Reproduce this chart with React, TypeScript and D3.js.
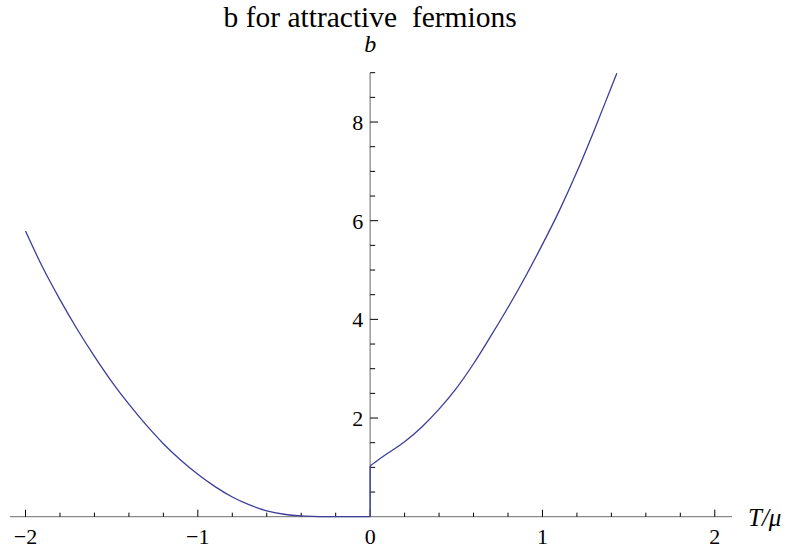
import { useEffect, useRef } from "react";
import * as d3 from "d3";

// values
const leftT = [-2.0, -1.9, -1.8, -1.7, -1.6, -1.5, -1.4, -1.3, -1.2, -1.1, -1.0, -0.9, -0.8, -0.7, -0.6, -0.5, -0.4, -0.3, -0.2, 0];
const leftB = [5.79, 5.05, 4.4, 3.8, 3.25, 2.74, 2.28, 1.86, 1.48, 1.15, 0.86, 0.61, 0.4, 0.24, 0.12, 0.05, 0.015, 0.003, 0, 0];
const jumpT = [0, 0];
const jumpB = [0, 1.03];
const rightT = [0, 0.05, 0.1, 0.2, 0.3, 0.4, 0.5, 0.6, 0.7, 0.8, 0.9, 1.0, 1.1, 1.2, 1.3, 1.4, 1.432];
const rightB = [1.03, 1.16, 1.28, 1.52, 1.82, 2.18, 2.6, 3.1, 3.66, 4.24, 4.86, 5.52, 6.22, 6.99, 7.83, 8.71, 8.99];
const xMajor = [-2, -1, 0, 1, 2];
const yMajor = [2, 4, 6, 8];
const title = "b for attractive  fermions";

const serif = "Liberation Serif, Times New Roman, serif";

function App() {
    const svgRef = useRef(null);
    const width = 804;
    const height = 550;

    useEffect(() => {
        const svg = d3.select(svgRef.current);
        svg.selectAll("*").remove();

        // scales
        const x = d3.scaleLinear().domain([-2.09, 2.1]).range([10, 732]);
        const y = d3.scaleLinear().domain([0, 9]).range([516.7, 72.7]);

        const xMinor = d3.range(-20, 21, 2).map(d => d / 10).filter(d => !xMajor.includes(d));
        const yMinor = d3.range(1, 19).map(d => d / 2).filter(d => !yMajor.includes(d));

        const axisColor = "#8a8a8a";

        // x axis
        const gx = svg.append("g");
        gx.append("line")
            .attr("x1", x(-2.09)).attr("x2", x(2.1))
            .attr("y1", y(0)).attr("y2", y(0))
            .attr("stroke", axisColor).attr("stroke-width", 1.3);
        gx.selectAll(".maj").data(xMajor).enter().append("line")
            .attr("x1", d => x(d)).attr("x2", d => x(d))
            .attr("y1", y(0)).attr("y2", y(0) - 7)
            .attr("stroke", "#000").attr("stroke-width", 1);
        gx.selectAll(".min").data(xMinor).enter().append("line")
            .attr("x1", d => x(d)).attr("x2", d => x(d))
            .attr("y1", y(0)).attr("y2", y(0) - 4)
            .attr("stroke", "#000").attr("stroke-width", 1);
        gx.selectAll("text").data(xMajor).enter().append("text")
            .attr("x", d => x(d))
            .attr("y", 544)
            .attr("text-anchor", "middle")
            .style("font-family", serif)
            .style("font-size", "22px")
            .text(d => (d < 0 ? "\u2212" + Math.abs(d) : String(d)));

        // y axis
        const gy = svg.append("g");
        gy.append("line")
            .attr("x1", x(0)).attr("x2", x(0))
            .attr("y1", y(0)).attr("y2", y(9))
            .attr("stroke", axisColor).attr("stroke-width", 1.3);
        gy.selectAll(".maj").data(yMajor).enter().append("line")
            .attr("x1", x(0)).attr("x2", x(0) + 8)
            .attr("y1", d => y(d)).attr("y2", d => y(d))
            .attr("stroke", "#000").attr("stroke-width", 1);
        gy.selectAll(".min").data(yMinor).enter().append("line")
            .attr("x1", x(0)).attr("x2", x(0) + 5)
            .attr("y1", d => y(d)).attr("y2", d => y(d))
            .attr("stroke", "#000").attr("stroke-width", 1);
        gy.selectAll("text").data(yMajor).enter().append("text")
            .attr("x", x(0) - 7)
            .attr("y", d => y(d) + 8)
            .attr("text-anchor", "end")
            .style("font-family", serif)
            .style("font-size", "22px")
            .text(d => String(d));

        // the curve
        const line = d3.line()
            .x(d => x(d[0]))
            .y(d => y(d[1]))
            .curve(d3.curveMonotoneX);
        const straight = d3.line().x(p => x(p[0])).y(p => y(p[1]));
        const branches = [
            leftT.map((t, i) => [t, leftB[i]]),
            jumpT.map((t, i) => [t, jumpB[i]]),
            rightT.map((t, i) => [t, rightB[i]])
        ];
        svg.selectAll(".curve").data(branches).enter().append("path")
            .attr("class", "curve")
            .attr("fill", "none")
            .attr("stroke", "#3d3d99")
            .attr("stroke-width", 1.3)
            .attr("d", (d, i) => (i === 1 ? straight(d) : line(d)));

        // labels
        svg.append("text")
            .attr("x", x(0))
            .attr("y", 27)
            .attr("text-anchor", "middle")
            .style("font-family", serif)
            .style("font-size", "29.5px")
            .style("white-space", "pre")
            .text(title);
        svg.append("text")
            .attr("x", x(0))
            .attr("y", 52)
            .attr("text-anchor", "middle")
            .style("font-family", serif)
            .style("font-style", "italic")
            .style("font-size", "24px")
            .text("b");
        svg.append("text")
            .attr("x", 748)
            .attr("y", 526)
            .style("font-family", serif)
            .style("font-style", "italic")
            .style("font-size", "25px")
            .text("T/\u03bc");
    }, []);

    return (
        <div>
            <svg
                ref={svgRef}
                width={width}
                height={height}
                style={{ position: "absolute", left: 0, top: 0, background: "#fff" }}
            ></svg>
        </div>
    );
}

export default App;
